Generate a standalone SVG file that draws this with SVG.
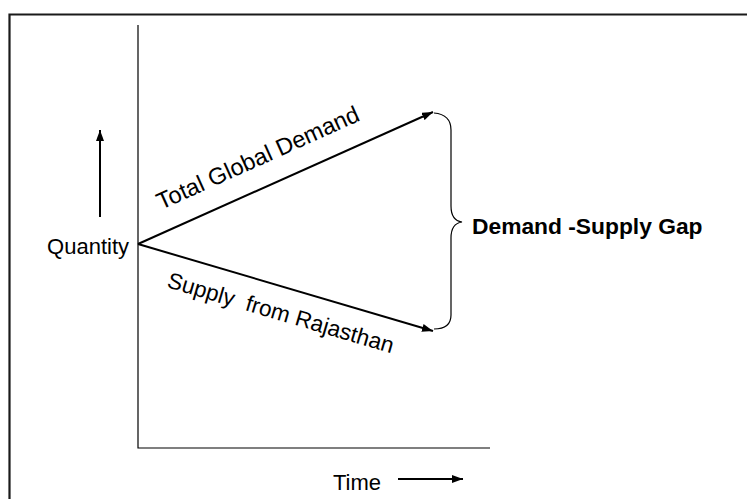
<svg xmlns="http://www.w3.org/2000/svg" width="747" height="499" viewBox="0 0 747 499">
<style>
.ln{stroke:#000;stroke-width:2;fill:none}
.ax{stroke:#000;stroke-width:1.2;fill:none}
.t{font-family:"Liberation Sans",Arial,sans-serif;fill:#000;font-size:22px}
</style>
<defs>
<marker id="ah" markerWidth="11" markerHeight="8" refX="11" refY="4" orient="auto" markerUnits="userSpaceOnUse">
<path d="M0,0 L11,4 L0,8 Z" fill="#000"/>
</marker>
</defs>
<rect x="0" y="0" width="747" height="499" fill="#fff"/>
<g id="frame">
<path d="M9.5,499 V14.5 H747" stroke="#1a1a1a" stroke-width="2.2" fill="none"/>
</g>
<g id="axes">
<path class="ax" d="M138,25 V448 H490"/>
</g>
<g id="connectors">
<line class="ln" x1="138" y1="244" x2="433" y2="112" marker-end="url(#ah)"/>
<line class="ln" x1="138" y1="244" x2="433" y2="331" marker-end="url(#ah)"/>
<line class="ln" x1="100" y1="217" x2="100" y2="130" marker-end="url(#ah)"/>
<line class="ln" x1="398" y1="479" x2="463" y2="479" marker-end="url(#ah)"/>
<path class="ax" d="M434,113 C446,114 451,120 451,130 V206 C451,216 455,221 462,222 C455,223 451,228 451,238 V315 C451,324 446,329 434,329" stroke-width="1.5"/>
</g>
<g id="labels">
<text class="t" x="129" y="254" text-anchor="end">Quantity</text>
<text class="t" x="333" y="490">Time</text>
<text class="t" x="472" y="234" style="font-size:22.8px" font-weight="bold">Demand -Supply Gap</text>
<text class="t" style="font-size:23.5px" transform="translate(161,210) rotate(-24.2)">Total Global Demand</text>
<text class="t" style="font-size:22.6px" transform="translate(166,287) rotate(16.4)" xml:space="preserve">Supply  from Rajasthan</text>
</g>
</svg>
